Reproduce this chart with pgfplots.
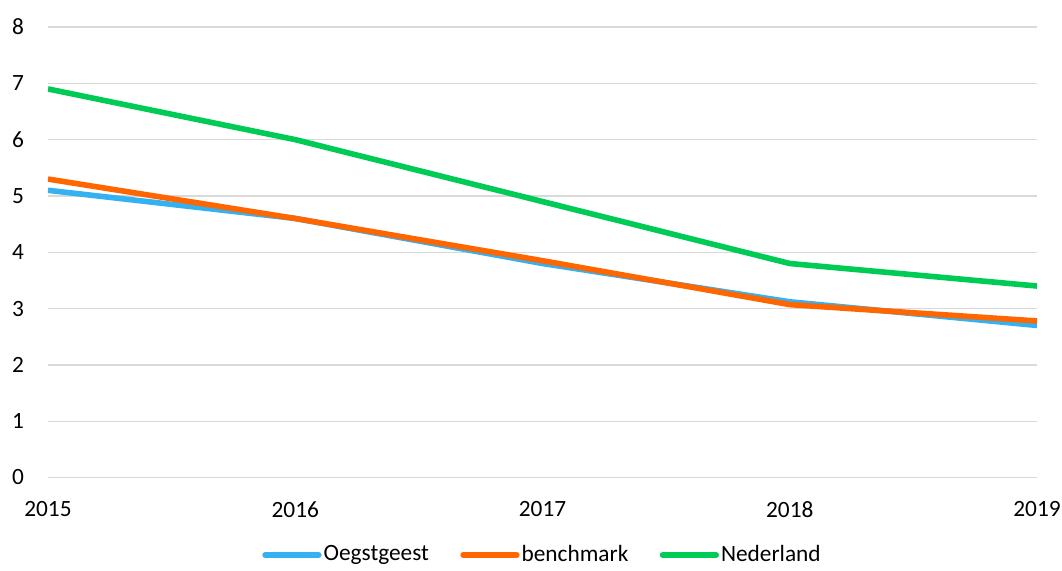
\documentclass[border=0pt]{standalone}
\usepackage{fontspec}
\setmainfont{Carlito}
\usepackage{pgfplots}
\pgfplotsset{compat=1.18}
\definecolor{cblue}{RGB}{51,177,240}
\definecolor{corange}{RGB}{255,102,0}
\definecolor{cgreen}{RGB}{0,204,85}
\definecolor{cgrid}{RGB}{217,217,217}
\begin{document}
\fontsize{17.5}{21}\selectfont
\begin{tikzpicture}
\begin{axis}[
  name=ax,
  scale only axis,
  width=742pt, height=338pt,
  xmin=2015, xmax=2019, ymin=0, ymax=8,
  xtick={2015,2016,2017,2018,2019},
  ytick={0,1,...,8},
  axis line style={draw=none},
  major tick length=0pt,
  ymajorgrids,
  grid style={cgrid, line width=1pt},
  /pgf/number format/1000 sep={},
  /pgf/number format/assume math mode=true,
  tick label style={font=\fontsize{17.5}{21}\selectfont, black},
  yticklabel style={xshift=-12pt},
  xticklabel style={yshift=-12pt},
  legend columns=3,
  legend style={at={(0.5,-0.172)}, anchor=center, draw=none, fill=none,
    font=\fontsize{17.5}{21}\selectfont,
    nodes={inner sep=1.5pt},
    /tikz/every even column/.append style={column sep=22pt}},
  legend image code/.code={\draw[#1, line width=4.5pt, line cap=round] (0pt,0pt) -- (40pt,0pt);},
  every axis plot/.append style={line width=4.2pt, line join=round},
]
\addplot[cblue, mark=none] coordinates {(2015,5.1) (2016,4.6) (2017,3.8) (2018,3.12) (2019,2.7)};
\addlegendentry{Oegstgeest}
\addplot[corange, mark=none] coordinates {(2015,5.3) (2016,4.6) (2017,3.85) (2018,3.07) (2019,2.78)};
\addlegendentry{benchmark}
\addplot[cgreen, mark=none] coordinates {(2015,6.9) (2016,6.0) (2017,4.9) (2018,3.8) (2019,3.4)};
\addlegendentry{Nederland}
\end{axis}
\pgfresetboundingbox
\path[use as bounding box] ([xshift=-36pt,yshift=-69.75pt]ax.south west) rectangle ([xshift=18.75pt,yshift=20.25pt]ax.north east);
\end{tikzpicture}
\end{document}
